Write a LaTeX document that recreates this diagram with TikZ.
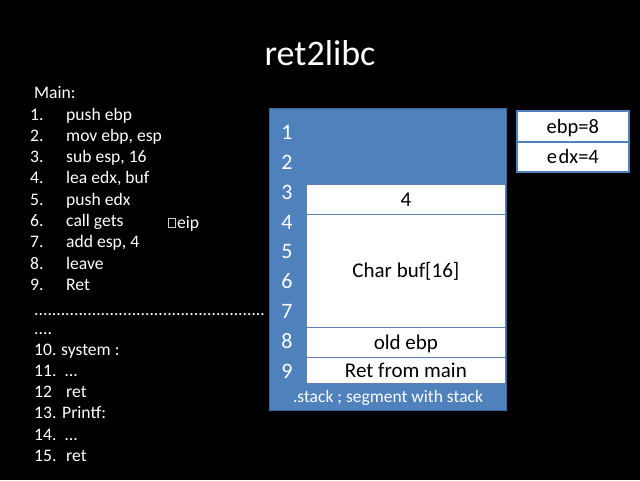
\documentclass[tikz,border=0pt]{standalone}
\usepackage{fontspec}
\setmainfont{Carlito}
\definecolor{stackblue}{HTML}{4F81BD}
\definecolor{stackedge}{HTML}{3A679C}
\tikzset{
  wt/.style={text=white, inner sep=0pt, anchor=base west, font=\fontsize{17.6}{21}\selectfont},
  digit/.style={text=white, inner sep=0pt, anchor=base, font=\fontsize{22}{26}\selectfont},
  cell/.style={draw=stackblue!70!gray, line width=0.8pt, fill=white, text=black, inner sep=0pt,
    font=\fontsize{21}{24}\selectfont, text height=18pt, text depth=4pt, anchor=north west},
  regbox/.style={draw=stackblue, line width=1.8pt, fill=white, text=black, inner sep=0pt,
    font=\fontsize{20.5}{24}\selectfont, text height=18pt, text depth=4pt, anchor=north west}
}
\begin{document}
\begin{tikzpicture}[x=1pt,y=-1pt]
\fill[black] (0,0) rectangle (640,480);
\useasboundingbox (0,0) rectangle (640,480);

% title
\node[text=white, inner sep=0pt, anchor=base, font=\fontsize{36}{40}\selectfont] (title) at (320,65) {ret2libc};

% main listing
\node[wt] (main) at (34,98) {Main:};
\foreach \i/\t in {1/push ebp, 2/{mov ebp, esp}, 3/{sub esp, 16}, 4/{lea edx, buf}, 5/push edx, 6/call gets, 7/{add esp, 4}, 8/leave, 9/Ret}{
  \node[wt] (n\i) at (30,{120+21.3*(\i-1)}) {\i.};
  \node[wt] (l\i) at (66,{120+21.3*(\i-1)}) {\t};
}
% eip marker
\draw[white!80!black, line width=0.6pt] (168.5,218.5) rectangle (175.5,227);
\node[wt] (eip) at (177,228) {eip};

% dotted separator
\node[wt] (dots1) at (34,315) {....................................................};
\node[wt] (dots2) at (34,334) {....};

% second listing
\node[wt] (n10) at (34,355) {10.};
\node[wt] (l10) at (61,355) {system :};
\node[wt] (n11) at (34,376.3) {11.};
\node[wt] (l11) at (65,376.3) {…};
\node[wt] (n12) at (34,397.6) {12};
\node[wt] (l12) at (66,397.6) {ret};
\node[wt] (n13) at (34,418.9) {13.};
\node[wt] (l13) at (62,418.9) {Printf:};
\node[wt] (n14) at (34,440.2) {14.};
\node[wt] (l14) at (65,440.2) {…};
\node[wt] (n15) at (34,461.5) {15.};
\node[wt] (l15) at (66,461.5) {ret};

% stack segment
\node[draw=stackedge, line width=0.8pt, fill=stackblue, inner sep=0pt, anchor=north west,
  minimum width=237pt, minimum height=302pt] (stack) at (269,108) {};
\foreach \i in {1,...,9}{
  \node[digit] (d\i) at (287,{139.3+29.9*(\i-1)}) {\i};
}
\node[cell, minimum width=199pt, minimum height=30pt] (c4) at (306,184) {4};
\node[cell, minimum width=199pt, minimum height=113pt] (cbuf) at (306,214) {Char buf[16]};
\node[cell, minimum width=199pt, minimum height=30pt] (cebp) at (306,327) {old ebp};
\node[cell, minimum width=199pt, minimum height=26pt] (cret) at (306,357) {Ret from main};
\node[text=white, inner sep=0pt, anchor=base, font=\fontsize{17.5}{21}\selectfont] (slabel) at (388,402) {.stack ; segment with stack};

% registers
\node[regbox, minimum width=112pt, minimum height=31pt] (rebp) at (516,110) {ebp=8};
\node[regbox, minimum width=112pt, minimum height=30pt] (redx) at (516,141) {e\kern1.5pt dx=4};
\end{tikzpicture}
\end{document}
